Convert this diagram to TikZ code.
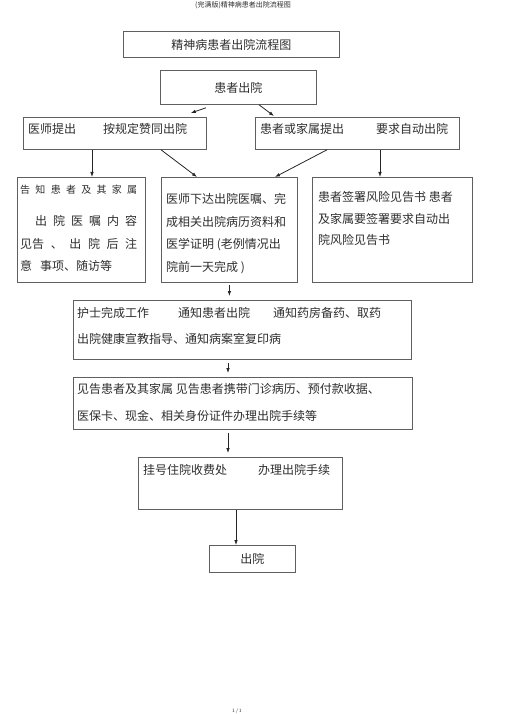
\documentclass[tikz,border=0pt]{standalone}
\usepackage{fontspec}
\newfontfamily\cjk{Noto Sans CJK SC}
\usepackage{xcolor}
\usepackage{tikz}
\usetikzlibrary{positioning}
\usetikzlibrary{calc,arrows.meta}

\definecolor{boxline}{RGB}{95,95,95}
\definecolor{inktext}{RGB}{45,45,45}

\tikzset{
	box/.style={draw=boxline, line width=0.8pt, rectangle, inner sep=0pt, anchor=north west,
		font=\cjk\fontsize{12}{22}\selectfont, text=inktext},
	txt/.style={font=\cjk\fontsize{12}{22.5}\selectfont, text=inktext, inner sep=0pt,
		align=left, anchor=base west},
	arr/.style={-{Latex[length=5pt,width=3.6pt]}, line width=0.8pt, draw=black!85},
}

\begin{document}
\begin{tikzpicture}[x=1pt,y=-1pt]
	
	\useasboundingbox (0,0) rectangle (505,714);
	
	% page header and footer
	\node[font=\cjk\fontsize{7}{8}\selectfont, text=inktext] (header) at (243,5) {(完满版)精神病患者出院流程图};
	\node[font=\fontsize{5}{6}\selectfont, text=inktext] (footer) at (237,711) {1/1};
	
	% boxes: top left corner at (x,y), sizes in pt
	\node[box, minimum width=216pt, minimum height=26pt] (title) at (123,31) {精神病患者出院流程图};
	\node[box, minimum width=156pt, minimum height=34pt] (leave) at (160,70) {患者出院};
	
	\node[box, minimum width=183pt, minimum height=32pt] (docprop) at (23,117) {};
	\node[box, minimum width=204pt, minimum height=32pt] (famprop) at (255,117) {};
	
	\node[box, minimum width=128pt, minimum height=105pt] (inform) at (17,177) {};
	\node[box, minimum width=136pt, minimum height=105pt] (order)  at (161,177) {};
	\node[box, minimum width=160pt, minimum height=105pt] (risk)   at (312,177) {};
	
	\node[box, minimum width=338pt, minimum height=59pt] (nurse)   at (73,300) {};
	\node[box, minimum width=339pt, minimum height=52pt] (notify)  at (73,377) {};
	\node[box, minimum width=204pt, minimum height=52pt] (cashier) at (138,457) {};
	\node[box, minimum width=86pt,  minimum height=27pt] (out)     at (209,545) {出院};
	
	% texts: the base anchor of a multi-line node is its last line,
	% so the offsets below go to the last baseline
	\node[txt] (docproptxt) at ($(docprop.north west)+(5,16.5)$) {医师提出\hspace{27pt}按规定赞同出院};
	\node[txt] (famproptxt) at ($(famprop.north west)+(5,16.5)$) {患者或家属提出\hspace{32pt}要求自动出院};
	
	\node[txt] (informtxt) at ($(inform.north west)+(3,93.5)$) {%
		{\fontsize{10}{22.5}\selectfont\makebox[117pt]{告\hfill 知\hfill 患\hfill 者\hfill 及\hfill 其\hfill 家\hfill 属}}\\[10pt]
		\makebox[117pt]{\hspace{15pt}出\hfill 院\hfill 医\hfill 嘱\hfill 内\hfill 容}\\
		\makebox[117pt]{见告\hfill 、\hfill 出\hfill 院\hfill 后\hfill 注}\\
		意\hspace{8pt}事项、随访等};
	\node[txt] (ordertxt) at ($(order.north west)+(5,94)$) {%
		医师下达出院医嘱、完\\
		成相关出院病历资料和\\
		医学证明 (老例情况出\\
		院前一天完成 )};
	\node[txt, font=\cjk\fontsize{12}{21.5}\selectfont] (risktxt) at ($(risk.north west)+(6,67.5)$) {%
		患者签署风险见告书 患者\\
		及家属要签署要求自动出\\
		院风险见告书};
	
	\node[txt, font=\cjk\fontsize{12}{26}\selectfont] (nursetxt) at ($(nurse.north west)+(4,43.5)$) {%
		护士完成工作\hspace{29pt}通知患者出院\hspace{23pt}通知药房备药、取药\\
		出院健康宣教指导、通知病案室复印病};
	\node[txt, font=\cjk\fontsize{12}{27}\selectfont] (notifytxt) at ($(notify.north west)+(4,43.5)$) {%
		见告患者及其家属 见告患者携带门诊病历、预付款收据、\\
		医保卡、现金、相关身份证件办理出院手续等};
	\node[txt] (cashiertxt) at ($(cashier.north west)+(5,17.5)$) {挂号住院收费处\hspace{31pt}办理出院手续};
	
	% connectors
	\draw[arr] ($(leave.south west)+(46,3)$) -- ($(docprop.north east)+(-16,-4)$);
	\draw[arr] ($(leave.south west)+(99,0)$) -- ($(famprop.north west)+(19,-1)$);
	
	\draw[arr] ($(docprop.south west)+(69,0)$)  -- ($(inform.north west)+(75,0)$);
	\draw[arr] ($(docprop.south west)+(138,0)$) -- ($(order.north west)+(36,0)$);
	\draw[arr] ($(famprop.south west)+(72,0)$)  -- ($(order.north west)+(114,0)$);
	\draw[arr] ($(famprop.south west)+(125,0)$) -- ($(risk.north west)+(68,0)$);
	
	\draw[arr] ($(order.south)+(0,2)$) -- ($(order.south |- nurse.north)+(0,-4)$);
	\draw[arr] ($(nurse.south west)+(155,3)$) -- ($(notify.north west)+(155,-4)$);
	\draw[arr] ($(notify.south west)+(155,3)$) -- ($(cashier.north west)+(90,-4)$);
	\draw[arr] ($(cashier.south west)+(98,0)$) -- ($(out.north west)+(27,0)$);
	
\end{tikzpicture}
\end{document}
